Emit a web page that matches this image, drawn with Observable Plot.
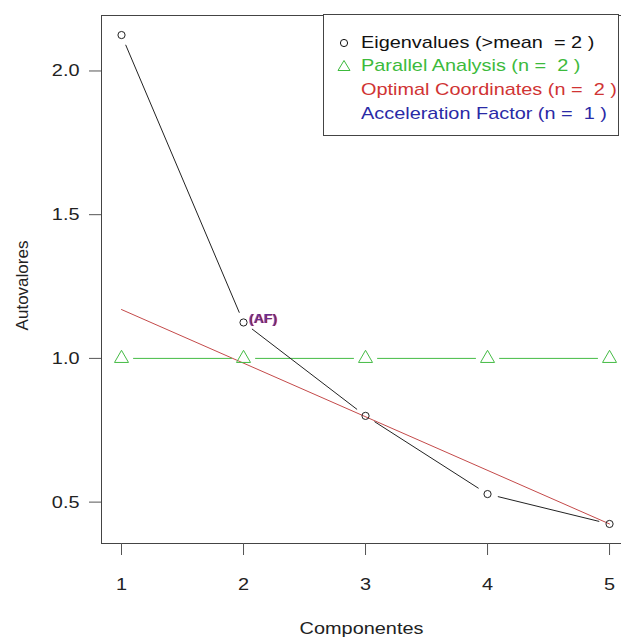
<!DOCTYPE html>
<html>
<head>
<meta charset="utf-8">
<script src="https://cdn.jsdelivr.net/npm/d3@7"></script>
<script src="https://cdn.jsdelivr.net/npm/@observablehq/plot@0.6"></script>
<style>
html, body { margin: 0; padding: 0; overflow: hidden; background: #fff; }
#wrap { position: relative; width: 621px; height: 639px; overflow: hidden; }
#chart svg { display: block; }
#legend { position: absolute; left: 323px; top: 14px; width: 296px; height: 122px; border: 1px solid #444; box-sizing: border-box; background: #fff; font-family: "Liberation Sans", Arial, sans-serif; font-size: 17px; }
.row { position: absolute; left: 0; width: 100%; height: 20px; }
.sym { position: absolute; left: 12px; top: 2px; }
.txt { position: absolute; left: 37px; top: 0; line-height: 20px; white-space: pre; transform: scaleX(1.17); transform-origin: left center; }
</style>
</head>
<body>
<div id="wrap">
  <div id="chart"></div>
  <div id="legend"></div>
</div>
<script>
// ---- data ----
const components = [1, 2, 3, 4, 5];
const eigenvalues = [2.125, 1.125, 0.80, 0.528, 0.424];
const parallelAnalysis = [1.0, 1.0, 1.0, 1.0, 1.0];
const ocLineX = [1, 5];
const ocLineY = [1.17, 0.424];
const afComponent = 2;
const afLabel = "(AF)";
const xTicks = [1, 2, 3, 4, 5];
const yTicks = [0.5, 1.0, 1.5, 2.0];
const xDomain = [0.836, 5.098];   // right side of the R plot box is cropped off
const yDomain = [0.356, 2.193];
const xTitle = "Componentes";
const yTitle = "Autovalores";
const legendLabels = [
  "Eigenvalues (>mean  = 2 )",
  "Parallel Analysis (n =  2 )",
  "Optimal Coordinates (n =  2 )",
  "Acceleration Factor (n =  1 )"
];
const legendColors = ["#111111", "#3cba3c", "#d03434", "#2a2aa6"];
const legendSymbols = ["circle", "triangle", null, null];

// ---- tables ----
const eig = components.map((c, i) => ({x: c, y: eigenvalues[i]}));
const pa = components.map((c, i) => ({x: c, y: parallelAnalysis[i]}));
const oc = ocLineX.map((x, i) => ({x, y: ocLineY[i]}));
const segs = (arr) => arr.slice(1).map((d, i) => ({x1: arr[i].x, y1: arr[i].y, x2: d.x, y2: d.y}));
const afPoint = [{x: afComponent, y: eigenvalues[components.indexOf(afComponent)], t: afLabel}];

const font = "Liberation Sans, Arial, sans-serif";

const plot = Plot.plot({
  width: 621,
  height: 639,
  marginLeft: 101,
  marginRight: 0,
  marginTop: 15,
  marginBottom: 96,
  style: {fontFamily: font, fontSize: "17px", color: "#222", background: "#fff"},
  x: {domain: xDomain},
  y: {domain: yDomain},
  marks: [
    Plot.ruleX([xDomain[0]], {stroke: "#444"}),
    Plot.ruleY(yDomain, {stroke: "#444"}),
    Plot.axisX(xTicks, {tickSize: 12, tickPadding: 22, label: null, tickFormat: (d) => String(d), fontSize: 17, stroke: "#555"}),
    Plot.axisY(yTicks, {tickSize: 12, tickPadding: 10, label: null, tickFormat: (d) => d.toFixed(1), fontSize: 17, stroke: "#555"}),
    Plot.line(oc, {x: "x", y: "y", stroke: "#c44a4a", strokeWidth: 1}),
    Plot.arrow(segs(pa), {x1: "x1", y1: "y1", x2: "x2", y2: "y2", insetStart: 12, insetEnd: 12, headLength: 0, stroke: "#44bb44", strokeWidth: 1}),
    Plot.dot(pa, {x: "x", y: "y", symbol: "triangle", r: 5.2, stroke: "#44bb44", strokeWidth: 1, fill: "none"}),
    Plot.arrow(segs(eig), {x1: "x1", y1: "y1", x2: "x2", y2: "y2", insetStart: 11, insetEnd: 11, headLength: 0, stroke: "#222", strokeWidth: 1}),
    Plot.dot(eig, {x: "x", y: "y", r: 3.6, stroke: "#222", strokeWidth: 1, fill: "none"}),
    Plot.text(afPoint, {x: "x", y: "y", text: "t", textAnchor: "start", dx: 6, dy: -3, fontSize: 12, fontWeight: "bold", fill: "#d03434"}),
    Plot.text(afPoint, {x: "x", y: "y", text: "t", textAnchor: "start", dx: 5, dy: -3, fontSize: 12, fontWeight: "bold", fill: "#4a2ab0", fillOpacity: 0.8}),
    Plot.text([xTitle], {frameAnchor: "bottom", textAnchor: "middle", lineAnchor: "middle", dx: 0, dy: 85, fontSize: 17, fill: "#222"}),
    Plot.text([yTitle], {frameAnchor: "left", textAnchor: "middle", lineAnchor: "middle", dx: -79, dy: 6, rotate: -90, fontSize: 17, fill: "#222"})
  ]
});

// stretch horizontal text to match the reference's wide lettering
plot.querySelectorAll("text").forEach((t) => {
  let tr = t.getAttribute("transform");
  if (tr && tr.includes("rotate")) return;
  if (!tr) {
    const x = +(t.getAttribute("x") || 0), y = +(t.getAttribute("y") || 0);
    t.removeAttribute("x"); t.removeAttribute("y");
    tr = `translate(${x},${y})`;
  }
  t.setAttribute("transform", tr + " scale(1.17,1)");
});

document.getElementById("chart").appendChild(plot);

// legend
const legend = document.getElementById("legend");
const rowTops = [18, 41, 65, 89];
legendLabels.forEach((label, i) => {
  const row = document.createElement("div");
  row.className = "row";
  row.style.top = rowTops[i] + "px";
  if (legendSymbols[i]) {
    const s = legendSymbols[i] === "circle"
      ? `<svg class="sym" width="16" height="16"><circle cx="8" cy="8" r="3.6" fill="none" stroke="${legendColors[i]}" stroke-width="1"/></svg>`
      : `<svg class="sym" width="16" height="16"><path d="M8,2.5 L14,12.5 L2,12.5 Z" fill="none" stroke="${legendColors[i]}" stroke-width="1"/></svg>`;
    row.insertAdjacentHTML("beforeend", s);
  }
  const span = document.createElement("span");
  span.className = "txt";
  span.style.color = legendColors[i];
  span.textContent = label;
  row.appendChild(span);
  legend.appendChild(row);
});
</script>
</body>
</html>
